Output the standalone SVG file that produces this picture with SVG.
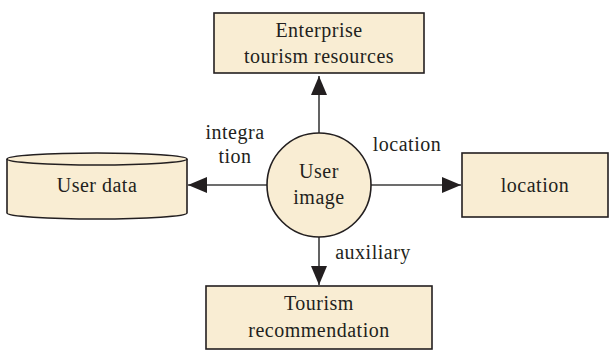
<svg xmlns="http://www.w3.org/2000/svg" width="610" height="351" viewBox="0 0 610 351">
<style>
.box{fill:#F9EDD3;stroke:#231F20;stroke-width:1.6}
.t{font-family:"Liberation Serif","Times New Roman",serif;font-size:20px;letter-spacing:0.5px;fill:#231F20;text-anchor:middle}
.c{stroke:#3C3C3C;stroke-width:1.6;fill:none}
</style>
<defs>
<marker id="ah" markerUnits="userSpaceOnUse" markerWidth="20" markerHeight="18" refX="19" refY="8" orient="auto">
<path d="M0,0 L19,8 L0,16 Z" fill="#231F20"/>
</marker>
</defs>
<rect width="610" height="351" fill="#fff"/>
<g id="connectors">
<line class="c" x1="319" y1="133" x2="319" y2="76" marker-end="url(#ah)"/>
<line class="c" x1="267" y1="185" x2="188" y2="185" marker-end="url(#ah)"/>
<line class="c" x1="371" y1="185" x2="461" y2="185" marker-end="url(#ah)"/>
<line class="c" x1="319" y1="237" x2="319" y2="285" marker-end="url(#ah)"/>
<text class="t" x="235" y="139">integra</text>
<text class="t" x="235" y="163">tion</text>
<text class="t" x="407" y="151">location</text>
<text class="t" x="373" y="259">auxiliary</text>
</g>
<g id="enterprise">
<rect class="box" x="214" y="13" width="210" height="60"/>
<text class="t" x="319" y="37">Enterprise</text>
<text class="t" x="319" y="63">tourism resources</text>
</g>
<g id="userdata">
<path class="box" d="M7,159 L7,213 A90,6 0 0 0 187,213 L187,159 A90,6 0 0 0 7,159 Z"/>
<path class="box" d="M7,159 A90,6 0 0 0 187,159" fill="none"/>
<text class="t" x="97" y="192">User data</text>
</g>
<g id="userimage">
<circle class="box" cx="319" cy="185" r="52"/>
<text class="t" x="319" y="178">User</text>
<text class="t" x="319" y="204">image</text>
</g>
<g id="location">
<rect class="box" x="462" y="153" width="146" height="64"/>
<text class="t" x="535" y="192">location</text>
</g>
<g id="recommendation">
<rect class="box" x="206" y="286" width="226" height="63"/>
<text class="t" x="319" y="310">Tourism</text>
<text class="t" x="319" y="337">recommendation</text>
</g>
</svg>
